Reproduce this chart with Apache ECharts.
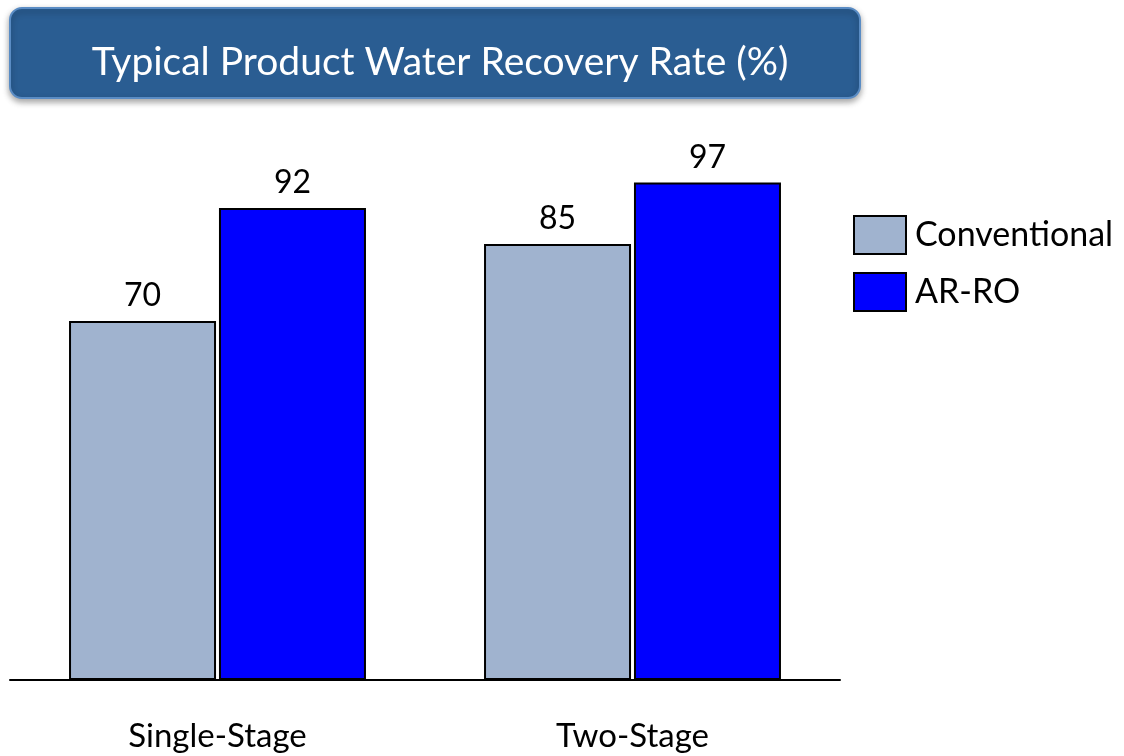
<!DOCTYPE html>
<html>
<head>
<meta charset="utf-8">
<script src="https://cdn.jsdelivr.net/npm/echarts@6/dist/echarts.min.js"></script>
<style>
  html, body { margin: 0; padding: 0; background: #fff; }
  #main { width: 1124px; height: 756px; }
</style>
</head>
<body>
<div id="main"></div>
<script>
const categories = ['Single-Stage', 'Two-Stage'];
const conventional = [70, 85];
const arro = [92, 97];
const seriesNames = ['Conventional', 'AR-RO'];

const font = 'Lato, "Open Sans", sans-serif';
const chart = echarts.init(document.getElementById('main'));

const option = {
  animation: false,
  backgroundColor: '#fff',
  title: {
    text: 'Typical Product Water Recovery Rate (%)',
    left: 435,
    top: 57,
    textAlign: 'center',
    textVerticalAlign: 'middle',
    textStyle: { color: '#fff', fontSize: 39, fontWeight: 'normal', fontFamily: font }
  },
  graphic: [{
    type: 'rect',
    z: -1,
    shape: { x: 10, y: 8, width: 850, height: 90, r: 12 },
    style: {
      fill: '#2a5d92',
      stroke: '#5a8cc4',
      lineWidth: 2,
      shadowBlur: 6,
      shadowOffsetY: 3,
      shadowColor: 'rgba(0,0,0,0.35)'
    }
  }],
  legend: {
    orient: 'vertical',
    left: 853,
    top: 215,
    padding: 0,
    itemWidth: 52,
    itemHeight: 38,
    itemGap: 17,
    icon: 'rect',
    data: seriesNames,
    textStyle: { color: '#000', fontSize: 34, fontFamily: font, padding: [9, 0, 0, 4] }
  },
  grid: { left: 10, right: 284, top: 167, bottom: 76 },
  xAxis: {
    type: 'category',
    data: categories,
    axisLine: { lineStyle: { color: '#000', width: 2 } },
    axisTick: { show: false },
    axisLabel: { color: '#000', fontSize: 33, fontFamily: font, margin: 40 }
  },
  yAxis: {
    type: 'value',
    min: 0,
    max: 100,
    show: false,
    splitLine: { show: false }
  },
  series: [
    {
      name: seriesNames[0],
      type: 'bar',
      data: conventional,
      barWidth: 147,
      barGap: '2%',
      itemStyle: { color: '#a0b3cf', borderColor: '#000', borderWidth: 2 },
      label: { show: true, position: 'top', distance: 9, color: '#000', fontSize: 32, fontFamily: font }
    },
    {
      name: seriesNames[1],
      type: 'bar',
      data: arro,
      barWidth: 147,
      itemStyle: { color: '#0000ff', borderColor: '#000', borderWidth: 2 },
      label: { show: true, position: 'top', distance: 9, color: '#000', fontSize: 32, fontFamily: font }
    }
  ]
};
chart.setOption(option);
</script>
</body>
</html>
